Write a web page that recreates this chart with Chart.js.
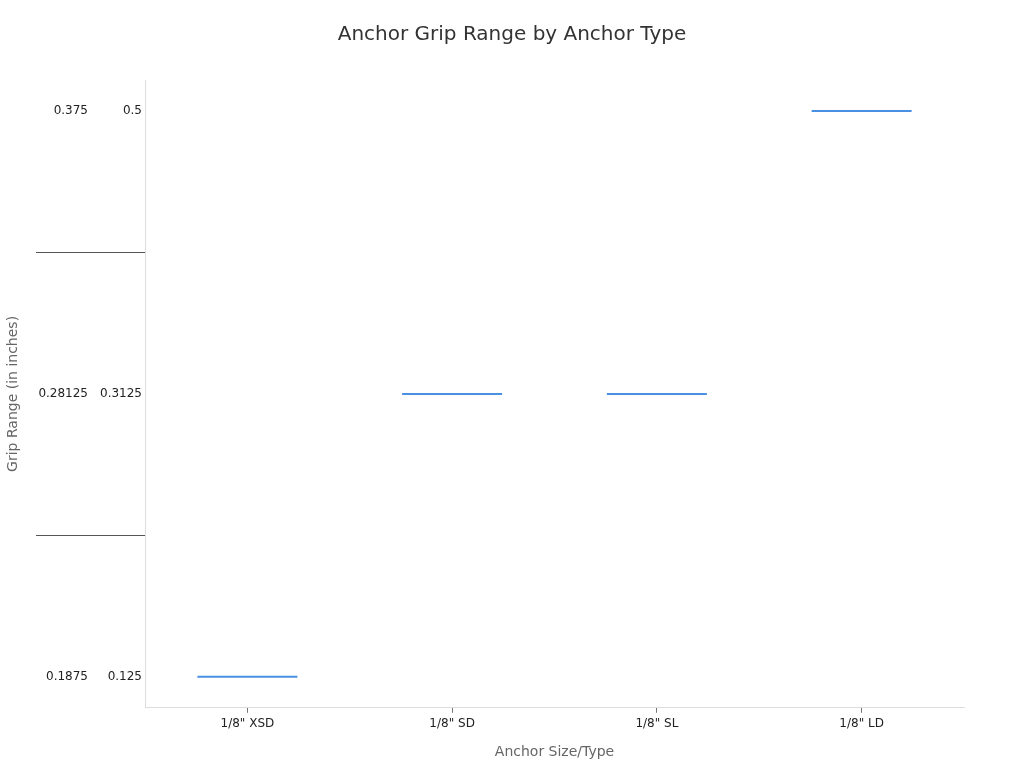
<!DOCTYPE html>
<html>
<head>
<meta charset="utf-8">
<script src="https://cdn.jsdelivr.net/npm/chart.js@4/dist/chart.umd.min.js"></script>
<style>
html,body{margin:0;padding:0;background:#fff;}
#wrap{width:1024px;height:768px;}
</style>
</head>
<body>
<div id="wrap"><canvas id="c" width="1024" height="768"></canvas></div>
<script>
const categories = ['1/8" XSD', '1/8" SD', '1/8" SL', '1/8" LD'];
const gripValues = [0.125, 0.3125, 0.3125, 0.5];
const yInnerLabels = ['0.125', '0.3125', '0.5'];
const yOuterLabels = ['0.1875', '0.28125', '0.375'];

const FONT = "'DejaVu Sans', sans-serif";
const points = gripValues.map((v, i) => ({ x: categories[i], y: yInnerLabels.indexOf(String(v)) }));

new Chart(document.getElementById('c'), {
  type: 'line',
  data: {
    labels: categories,
    datasets: [{
      data: points,
      yAxisID: 'y',
      showLine: false,
      pointStyle: 'line',
      pointRadius: 50,
      pointHoverRadius: 50,
      pointBorderWidth: 2,
      pointHoverBorderWidth: 2,
      borderColor: '#4a90e2',
      backgroundColor: '#4a90e2'
    }]
  },
  options: {
    responsive: false,
    animation: false,
    layout: { padding: { left: 0, right: 0, top: 0, bottom: 7 } },
    plugins: {
      legend: { display: false },
      tooltip: { enabled: false },
      title: {
        display: true,
        text: 'Anchor Grip Range by Anchor Type',
        color: '#333',
        font: { family: FONT, size: 20, weight: 'normal' },
        padding: { top: 23, bottom: 33 }
      }
    },
    scales: {
      x: {
        type: 'category',
        offset: true,
        grid: { drawOnChartArea: false, drawTicks: true, tickLength: 5, color: '#777' },
        border: { display: true, color: '#ddd' },
        ticks: { color: '#222', font: { family: FONT, size: 12 }, padding: 4, maxRotation: 0 },
        title: { display: true, text: 'Anchor Size/Type', color: '#666', font: { family: FONT, size: 14 }, padding: { top: 9, bottom: 0 } }
      },
      y: {
        type: 'linear',
        position: 'left',
        weight: 0,
        min: -0.11,
        max: 2.11,
        afterBuildTicks: (axis) => { axis.ticks = [0, 0.5, 1, 1.5, 2].map(v => ({ value: v })); },
        afterFit: (scale) => { scale.width = 46; },
        grid: {
          drawOnChartArea: false,
          drawTicks: true,
          tickLength: 109,
          color: (ctx) => (ctx.tick && Number.isInteger(ctx.tick.value)) ? 'rgba(0,0,0,0)' : '#555'
        },
        border: { display: true, color: '#ddd' },
        ticks: {
          padding: -106,
          color: '#222',
          font: { family: FONT, size: 12 },
          callback: (v) => Number.isInteger(v) ? yInnerLabels[v] : ''
        }
      },
      y2: {
        type: 'linear',
        position: 'left',
        weight: 1,
        min: -0.11,
        max: 2.11,
        afterBuildTicks: (axis) => { axis.ticks = [0, 1, 2].map(v => ({ value: v })); },
        afterFit: (scale) => { scale.width = 99; },
        grid: { display: false, drawTicks: false },
        border: { display: false },
        ticks: {
          padding: 11,
          color: '#222',
          font: { family: FONT, size: 12 },
          callback: (v) => yOuterLabels[v]
        },
        title: { display: true, text: 'Grip Range (in inches)', color: '#666', font: { family: FONT, size: 14 }, padding: { top: 5, bottom: 0 } }
      },
      spacer: {
        type: 'linear',
        position: 'right',
        afterFit: (scale) => { scale.width = 60; },
        grid: { display: false },
        border: { display: false },
        ticks: { display: false }
      }
    }
  }
});
</script>
</body>
</html>
